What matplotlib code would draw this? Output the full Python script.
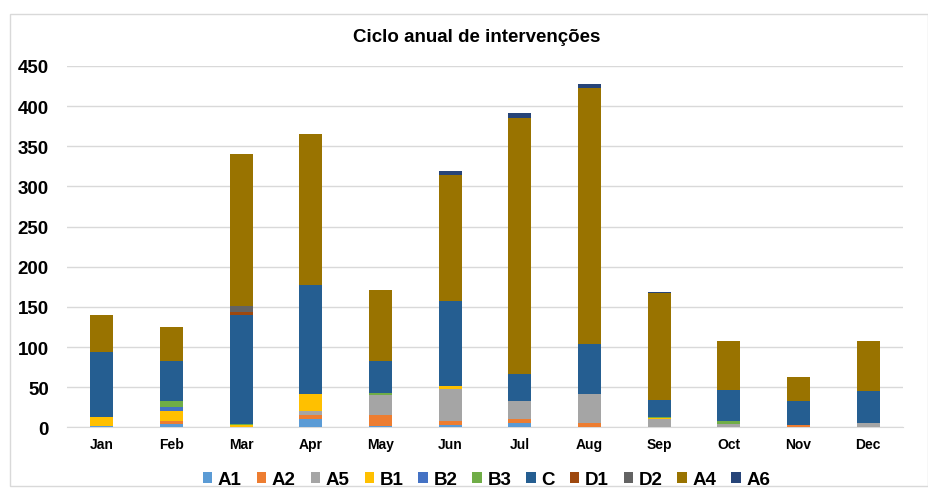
import matplotlib.pyplot as plt
import matplotlib.patches as mpatches
import numpy as np

plt.rcParams['font.family'] = ['Liberation Sans', 'DejaVu Sans']

# ------------------------
# DADOS
# ------------------------
meses = ["Jan", "Feb", "Mar", "Apr", "May", "Jun", "Jul", "Aug", "Sep", "Oct", "Nov", "Dec"]

A1 = [2, 4, 0, 10, 2, 3, 6, 0, 0, 0, 0, 0]
A2 = [0, 4, 0, 6, 14, 5, 4, 5, 0, 0, 3, 0]
A5 = [0, 0, 0, 5, 24, 40, 23, 36, 11, 4, 0, 6]
B1 = [11, 12, 3, 20, 0, 3, 0, 1, 1, 0, 0, 0]
B2 = [0, 5, 0, 0, 0, 0, 0, 0, 0, 0, 0, 0]
B3 = [0, 8, 1, 0, 3, 0, 0, 0, 1, 4, 0, 0]
C = [81, 50, 136, 136, 40, 106, 34, 62, 21, 38, 30, 39]
D1 = [0, 0, 4, 0, 0, 0, 0, 0, 0, 0, 0, 0]
D2 = [0, 0, 7, 0, 0, 0, 0, 0, 0, 0, 0, 0]
A4 = [46, 42, 190, 188, 88, 157, 318, 319, 133, 62, 30, 62]
A6 = [0, 0, 0, 0, 0, 5, 6, 4, 1, 0, 0, 0]

series = [
    ("A1", A1, "#5B9BD5"),
    ("A2", A2, "#ED7D31"),
    ("A5", A5, "#A5A5A5"),
    ("B1", B1, "#FFC000"),
    ("B2", B2, "#4472C4"),
    ("B3", B3, "#70AD47"),
    ("C", C, "#255E91"),
    ("D1", D1, "#9E480E"),
    ("D2", D2, "#636363"),
    ("A4", A4, "#997300"),
    ("A6", A6, "#264478"),
]

# ------------------------
# GRÁFICO
# ------------------------
fig = plt.figure(figsize=(9.29, 4.89), dpi=100)
ax = fig.add_axes([0.072, 0.124, 0.9, 0.739])

x = np.arange(len(meses))
base = np.zeros(len(meses))
for nome, vals, cor in series:
    ax.bar(x, vals, bottom=base, width=0.33, color=cor, label=nome, zorder=3)
    base += np.array(vals)

ax.set_xlim(-0.5, len(meses) - 0.5)
ax.set_ylim(0, 450)
ax.set_yticks(range(0, 451, 50))
ax.set_xticks(x)
ax.set_xticklabels(meses, fontsize=10, fontweight="bold")
for lbl in ax.get_yticklabels():
    lbl.set_fontsize(13.5)
    lbl.set_fontweight("bold")
ax.tick_params(axis="both", length=0)
ax.tick_params(axis="y", pad=13)
ax.tick_params(axis="x", pad=7)

ax.grid(axis="y", color="#D9D9D9", linewidth=1, zorder=0)
for s in ["top", "right", "left"]:
    ax.spines[s].set_visible(False)
ax.spines["bottom"].set_color("#D9D9D9")

fig.text(0.513, 0.924, "Ciclo anual de intervenções", ha="center", va="center",
         fontsize=13.5, fontweight="bold")

ax.legend(loc="center", bbox_to_anchor=(0.502, -0.145), ncol=11, frameon=False,
          prop={"size": 13.5, "weight": "bold"}, handlelength=0.5, handleheight=0.5,
          handletextpad=0.3, columnspacing=0.8)

# moldura à volta do gráfico
fig.patches.append(mpatches.Rectangle((0.011, 0.004), 0.988, 0.966, transform=fig.transFigure,
                                      fill=False, edgecolor="#D9D9D9", linewidth=1))

fig.savefig("out.png", dpi=100)
